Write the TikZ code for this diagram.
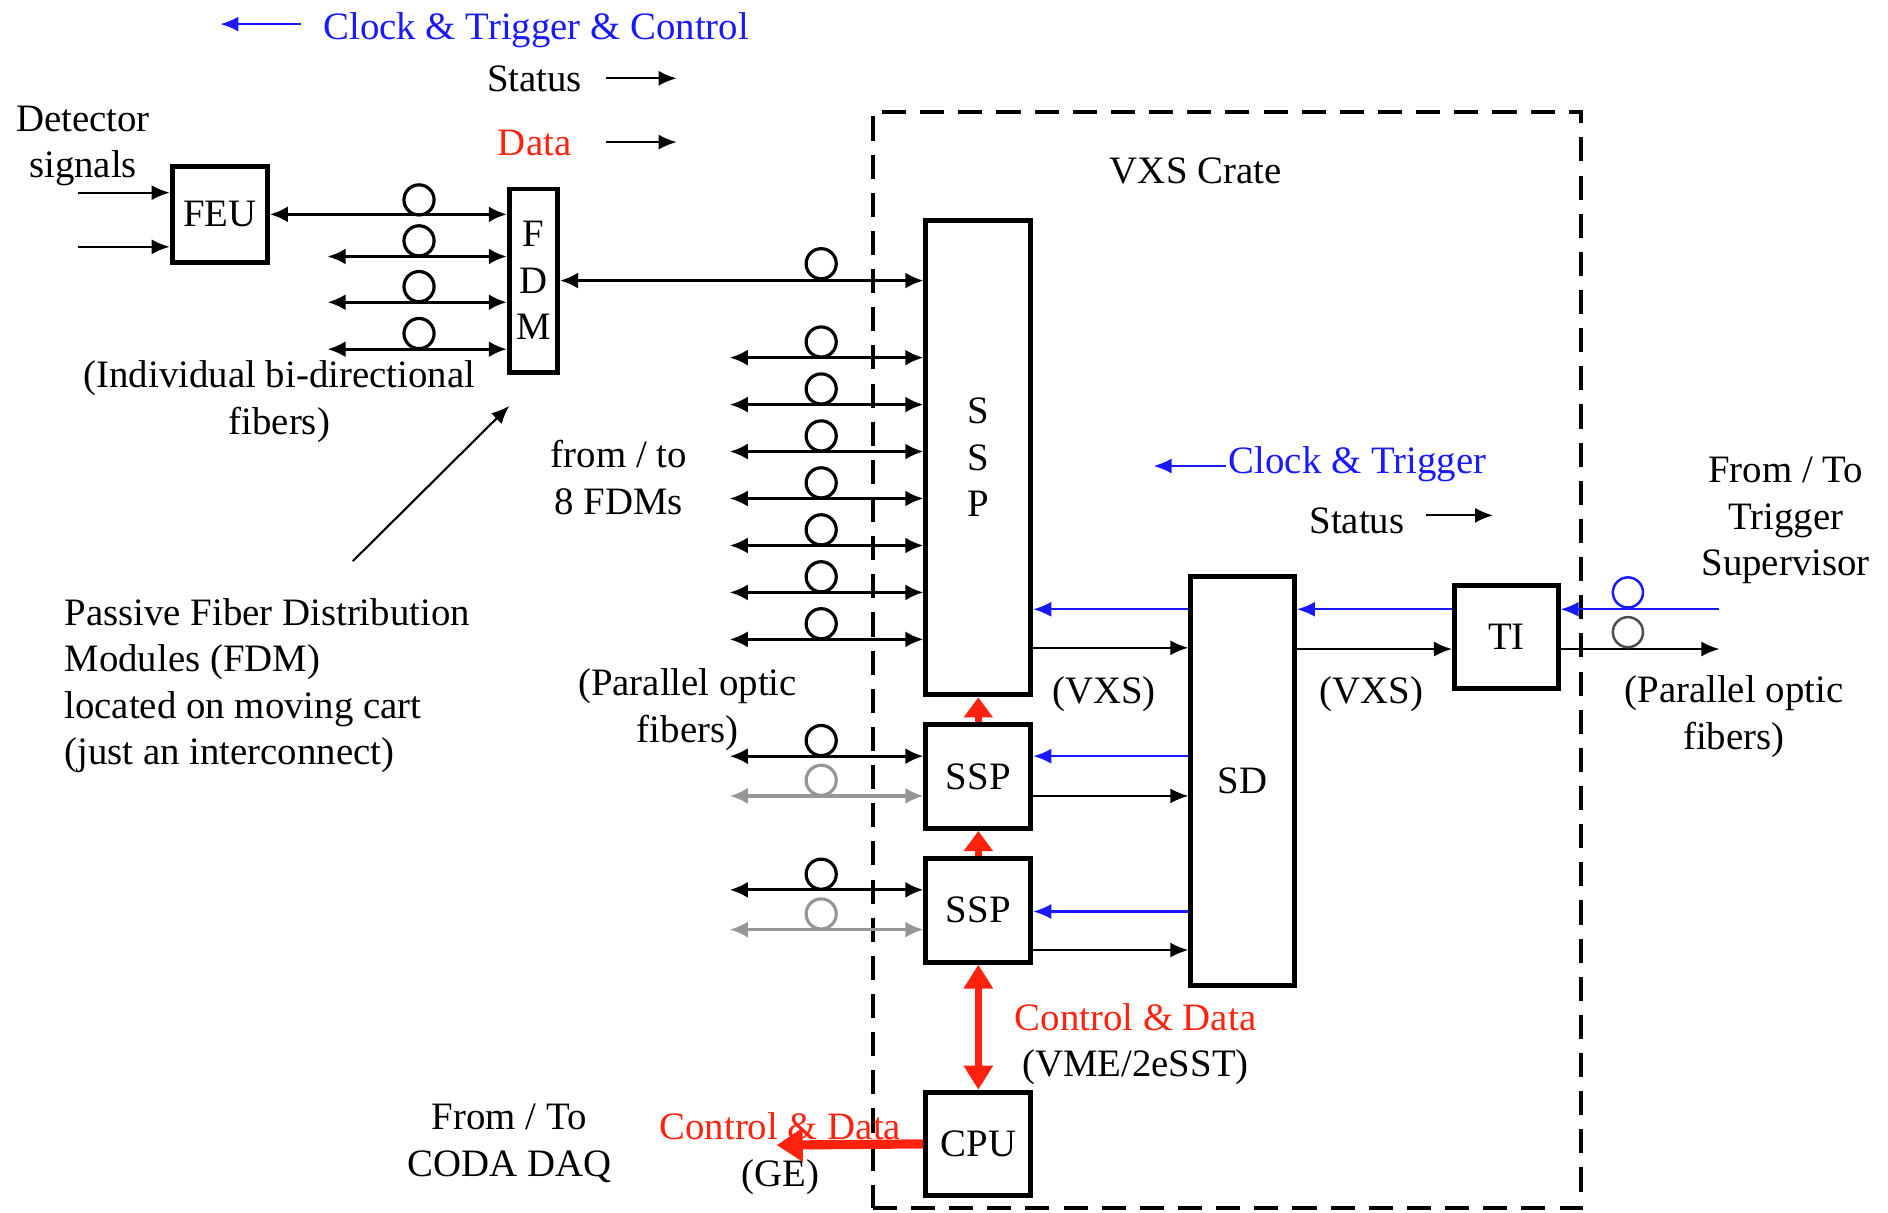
\documentclass[tikz,border=0pt]{standalone}
\usepackage{fontspec}
\setmainfont{Liberation Serif}
\usetikzlibrary{arrows.meta,positioning,calc}
\definecolor{trigblue}{RGB}{25,25,255}
\definecolor{datared}{RGB}{255,35,15}
\definecolor{sparegray}{RGB}{150,150,150}
\newcommand{\lblfont}{\fontsize{11}{13.2}\selectfont}
\tikzset{
  modbox/.style={draw,line width=1.4pt,minimum width=1.044cm,minimum height=1.032cm,
    inner sep=0pt,align=center,font=\lblfont},
  lbl/.style={inner sep=0pt,align=center,font=\lblfont,yshift=-0.4mm},
  fiber/.style={{Latex[length=1.8mm,width=1.6mm]}-{Latex[length=1.8mm,width=1.6mm]},line width=0.9pt},
  sparefiber/.style={fiber,draw=sparegray},
  spool/.style={circle,draw,line width=0.9pt,minimum size=0.3cm,inner sep=0pt},
  sparespool/.style={spool,draw=sparegray},
  thinarrow/.style={-{Latex[length=1.8mm,width=1.5mm]},line width=0.6pt},
  trigline/.style={thinarrow,draw=trigblue},
  dataup/.style={-{Triangle[length=2mm,width=2.8mm]},line width=2pt,draw=datared},
  databoth/.style={{Triangle[length=2.4mm,width=2.8mm]}-{Triangle[length=2.4mm,width=2.8mm]},line width=1.8pt,draw=datared},
  dataout/.style={-{Triangle[length=2.6mm,width=3.2mm]},line width=2.6pt,draw=datared},
  cratebox/.style={draw,line width=1.1pt,dash pattern=on 2.4mm off 1.4mm,inner sep=0pt}
}

\begin{document}
\begin{tikzpicture}[x=0.012cm,y=-0.012cm]
  \useasboundingbox (0,0) rectangle (1568,1007);

  % crate outline
  \node[cratebox,minimum width=7.056cm,minimum height=10.92cm] (crate) at (1019,548) {};
  \node[lbl] (cratelbl) at (993,139) {VXS Crate};

  % legend
  \node[lbl,text=trigblue,anchor=west] (legctc) at (268,22) {Clock \& Trigger \& Control};
  \coordinate (legctca) at (250,20);
  \draw[trigline] (legctca) -- ++(-67,0);
  \node[lbl] (legstat) at (444,62) {Status};
  \coordinate (legstata) at (503,65);
  \draw[thinarrow] (legstata) -- ++(59,0);
  \node[lbl,text=datared] (legdata) at (444,115) {Data};
  \coordinate (legdataa) at (503,118);
  \draw[thinarrow] (legdataa) -- ++(59,0);

  % front end
  \node[lbl] (det) at (69,118) {Detector\\signals};
  \node[modbox,minimum width=0.948cm,minimum height=0.96cm] (feu) at (182.5,178) {FEU};
  \node[modbox,minimum width=0.48cm,minimum height=1.824cm] (fdm) at (443,233) {F\\D\\M};
  \coordinate (sig1) at (65,160);
  \coordinate (sig2) at (65,205);
  \draw[thinarrow] (sig1) -- (sig1 -| feu.west);
  \draw[thinarrow] (sig2) -- (sig2 -| feu.west);
  \draw[fiber] (feu.east) -- (feu.east -| fdm.west);
  \node[spool] (spfeu) at (348,166) {};
  \foreach \fy [count=\k] in {213,251,290}{
    \coordinate (fl\k) at (272,\fy);
    \draw[fiber] (fl\k) -- (fl\k -| fdm.west);
    \node[spool] (spf\k) at (348,\fy-13) {};
  }
  \node[lbl] (indiv) at (232,330) {(Individual bi-directional\\fibers)};
  \node[lbl,align=left,anchor=west] (pfd) at (53,566)
    {Passive Fiber Distribution\\Modules (FDM)\\located on moving cart\\(just an interconnect)};
  \coordinate (pfdtail) at (293,466);
  \coordinate (pfdtip) at (423,337);
  \draw[thinarrow] (pfdtail) -- (pfdtip);

  % crate modules
  \node[modbox,minimum height=4.728cm] (ssp) at (812.5,380) {S\\S\\P};
  \node[modbox] (sspa) at (812.5,645) {SSP};
  \node[modbox] (sspb) at (812.5,756) {SSP};
  \node[modbox] (cpu) at (812.5,950) {CPU};
  \node[modbox,minimum width=1.032cm,minimum height=4.068cm] (sd) at (1032,648.5) {SD};
  \node[modbox,minimum width=1.032cm] (ti) at (1251,529) {TI};

  % fibers into SSP
  \draw[fiber] (fdm.east) -- (fdm.east -| ssp.west);
  \node[spool] (spfdm) at (682,219) {};
  \foreach \fy [count=\k] in {297,336,375,414,453,492,531}{
    \coordinate (fb\k) at (606,\fy);
    \draw[fiber] (fb\k) -- (fb\k -| ssp.west);
    \node[spool] (spb\k) at (682,\fy-13) {};
  }
  \foreach \m/\ya/\yb in {sspa/628/661,sspb/739/772}{
    \coordinate (\m-a) at (606,\ya);
    \coordinate (\m-b) at (606,\yb);
    \draw[fiber] (\m-a) -- (\m-a -| \m.west);
    \draw[sparefiber] (\m-b) -- (\m-b -| \m.west);
    \node[spool] (\m-sa) at (682,\ya-13) {};
    \node[sparespool] (\m-sb) at (682,\yb-13) {};
  }
  \node[lbl] (fromto) at (514,393) {from / to\\8 FDMs};
  \node[lbl] (parl) at (571,586) {(Parallel optic\\fibers)};

  % VXS backplane
  \foreach \m/\ya/\yb in {ssp/506/538,sspa/628/661,sspb/757/789}{
    \draw[trigline] (sd.west |- 0,\ya) -- (\m.east |- 0,\ya);
    \draw[thinarrow] (\m.east |- 0,\yb) -- (sd.west |- 0,\yb);
  }
  \draw[trigline] (ti.west |- 0,506) -- (sd.east |- 0,506);
  \draw[thinarrow] (sd.east |- 0,539) -- (ti.west |- 0,539);
  \node[lbl] (vxsa) at (917,573) {(VXS)};
  \node[lbl] (vxsb) at (1139,573) {(VXS)};

  % trigger supervisor link
  \coordinate (tsin) at (1428,506);
  \coordinate (tsout) at (1428,539);
  \draw[trigline] (tsin) -- (ti.east |- tsin);
  \draw[thinarrow] (ti.east |- tsout) -- (tsout);
  \node[spool,draw=trigblue,line width=0.7pt] (tsb) at (1352,492) {};
  \node[spool,draw=black!70,line width=0.7pt] (tsg) at (1352,525) {};
  \node[lbl] (tsup) at (1483,429) {From / To\\Trigger\\Supervisor};
  \node[lbl] (parr) at (1440,592) {(Parallel optic\\fibers)};
  \node[lbl,text=trigblue,anchor=west] (legct) at (1020,382) {Clock \& Trigger};
  \coordinate (legcta) at (1018,387);
  \draw[trigline] (legcta) -- ++(-60,0);
  \node[lbl] (legst) at (1127,429) {Status};
  \coordinate (legsta) at (1184,428);
  \draw[thinarrow] (legsta) -- ++(56,0);

  % control and data
  \draw[dataup] (sspa.north) -- (ssp.south);
  \draw[dataup] (sspb.north) -- (sspa.south);
  \draw[databoth] (sspb.south) -- (cpu.north);
  \node[lbl] (vme) at (943,864) {\textcolor{datared}{Control \& Data}\\(VME/2eSST)};
  \node[lbl] (ge) at (648,955) {\textcolor{datared}{Control \& Data}\\(GE)};
  \node[lbl] (coda) at (423,946) {From / To\\CODA DAQ};
  \coordinate (daqend) at (645,951);
  \draw[dataout] (cpu.west) -- (daqend);
\end{tikzpicture}
\end{document}
